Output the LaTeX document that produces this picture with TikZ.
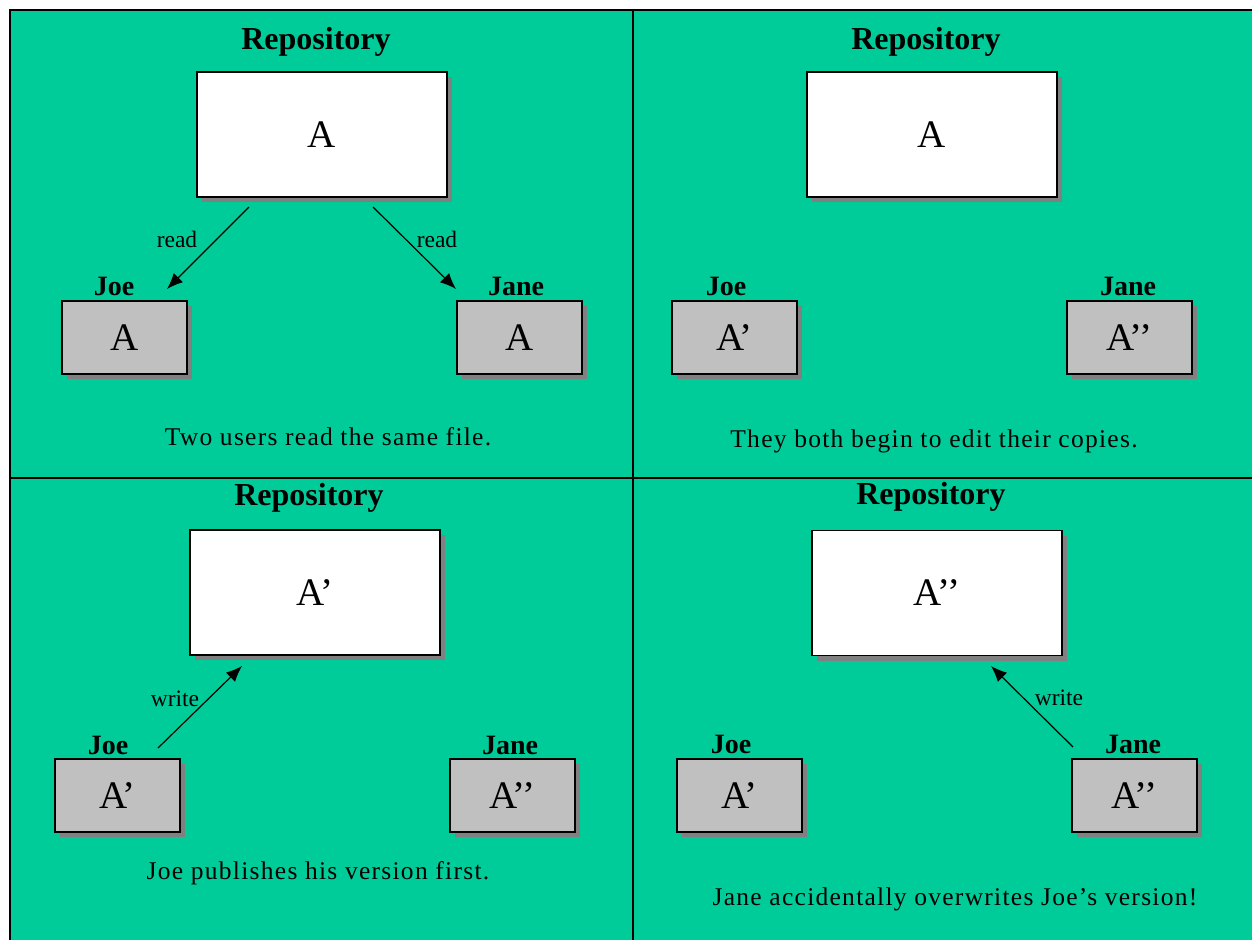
\documentclass[tikz,border=0pt]{standalone}
\usepackage{fontspec}
\setmainfont{Liberation Serif}
\newfontfamily\capfont[LetterSpace=5]{Liberation Serif}
\usetikzlibrary{arrows.meta}
\usetikzlibrary{shadows}
\definecolor{panelgreen}{HTML}{00CC99}
\definecolor{copygray}{HTML}{C0C0C0}
\definecolor{shadegray}{HTML}{808080}

\begin{document}
\begin{tikzpicture}[x=1pt,y=-1pt]
 \tikzstyle{repo}=[draw,line width=1.8pt,fill=white,minimum width=250pt,minimum height=125pt,inner sep=0pt,drop shadow={shadow xshift=5pt,shadow yshift=-5pt,fill=shadegray,opacity=1},font=\fontsize{39}{44}\selectfont]
 \tikzstyle{wcopy}=[repo,fill=copygray,minimum width=125pt,minimum height=73pt]
 \tikzstyle{title}=[anchor=base,font=\fontsize{32}{38}\selectfont\bfseries]
 \tikzstyle{user}=[anchor=base,font=\fontsize{28}{32}\selectfont\bfseries]
 \tikzstyle{caption}=[anchor=base,font=\capfont\fontsize{25.5}{30}\selectfont]
 \tikzstyle{action}=[font=\fontsize{23.5}{26}\selectfont]
 \tikzstyle{edge}=[draw,line width=1.2pt,-{Latex[length=16pt,width=13pt]}]

 \useasboundingbox (0,0) rectangle (1252,940);
 \fill[white] (0,0) rectangle (1252,940);
 \fill[panelgreen] (10,10) rectangle (1252,940);
 \draw[line width=2pt] (10,940) -- (10,10) -- (1252,10);
 \draw[line width=2pt] (633,10) -- (633,940);
 \draw[line width=2pt] (10,478) -- (1252,478);

 % two users read the same file
 \node[title] (t1) at (316,49) {Repository};
 \node[repo] (r1) at (322,134.5) {A};
 \node[user] (j1) at (114,295) {Joe};
 \node[wcopy] (jc1) at (124.5,337.5) {A};
 \node[user] (n1) at (516,295) {Jane};
 \node[wcopy] (nc1) at (519.5,337.5) {A};
 \coordinate (r1a) at (249,207);
 \coordinate (j1a) at (167,289);
 \coordinate (r1b) at (373,207);
 \coordinate (n1a) at (456,289);
 \draw[edge] (r1a) -- (j1a);
 \draw[edge] (r1b) -- (n1a);
 \node[action] (l1a) at (177,239) {read};
 \node[action] (l1b) at (437,239) {read};
 \node[caption] (c1) at (328,445) {Two users read the same file.};

 % both edit
 \node[title] (t2) at (926,49) {Repository};
 \node[repo] (r2) at (932,134.5) {A};
 \node[user] (j2) at (726,295) {Joe};
 \node[wcopy] (jc2) at (734.5,337.5) {A’};
 \node[user] (n2) at (1128,295) {Jane};
 \node[wcopy] (nc2) at (1129.5,337.5) {A’’};
 \node[caption] (c2) at (934,447) {They both begin to edit their copies.};

 % Joe writes first
 \node[title] (t3) at (309,505) {Repository};
 \node[repo] (r3) at (315,592.5) {A’};
 \node[user] (j3) at (108,754) {Joe};
 \node[wcopy] (jc3) at (117.5,795.5) {A’};
 \node[user] (n3) at (510,754) {Jane};
 \node[wcopy] (nc3) at (512.5,795.5) {A’’};
 \coordinate (j3a) at (158,748);
 \coordinate (r3a) at (242,666);
 \draw[edge] (j3a) -- (r3a);
 \node[action] (l3) at (175,699) {write};
 \node[caption] (c3) at (318,879) {Joe publishes his version first.};

 % Jane overwrites
 \node[title] (t4) at (931,504) {Repository};
 \node[repo] (r4) at (937,593) {A’’};
 \node[user] (j4) at (731,753) {Joe};
 \node[wcopy] (jc4) at (739.5,795.5) {A’};
 \node[user] (n4) at (1133,753) {Jane};
 \node[wcopy] (nc4) at (1134.5,795.5) {A’’};
 \coordinate (n4a) at (1073,747);
 \coordinate (r4a) at (991,666);
 \draw[edge] (n4a) -- (r4a);
 \node[action] (l4) at (1059,698) {write};
 \node[caption] (c4) at (955,905) {Jane accidentally overwrites Joe’s version!};
\end{tikzpicture}
\end{document}
